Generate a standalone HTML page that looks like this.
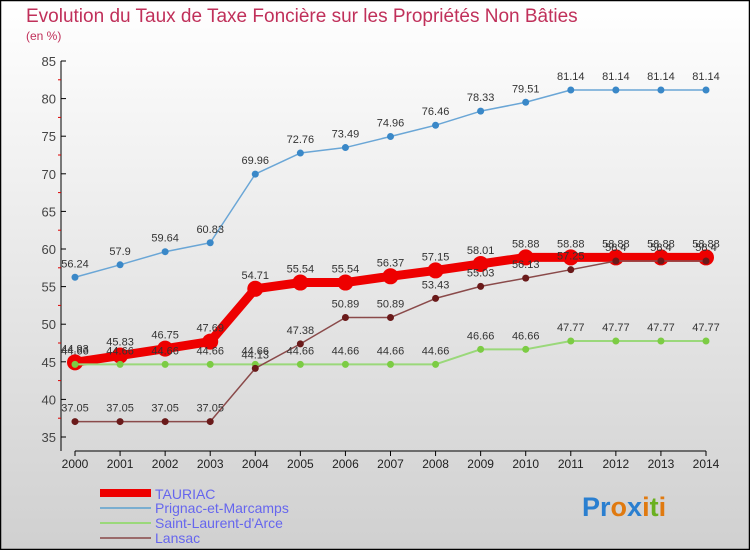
<!DOCTYPE html>
<html><head><meta charset="utf-8"><style>
body{margin:0;width:750px;height:550px;overflow:hidden;font-family:"Liberation Sans",sans-serif}
</style></head><body>
<svg width="750" height="550" xmlns="http://www.w3.org/2000/svg" font-family="Liberation Sans, sans-serif">
<defs><linearGradient id="bg" x1="0" y1="0" x2="0" y2="1"><stop offset="0" stop-color="#ffffff"/><stop offset="1" stop-color="#d0d0d0"/></linearGradient></defs>
<rect x="0.5" y="0.5" width="749" height="549" fill="url(#bg)" stroke="#000" stroke-width="1.5"/>
<text x="26" y="22" font-size="19" fill="#c0305a">Evolution du Taux de Taxe Foncière sur les Propriétés Non Bâties</text>
<text x="26" y="40" font-size="12" fill="#c0305a">(en %)</text>
<g id="axes"></g><g id="series"></g><g id="labels"></g>
<g font-size="14" fill="#6666ee">
<rect x="100" y="489" width="51" height="8" fill="#ee0000"/>
<text x="155" y="499">TAURIAC</text>
<rect x="100" y="507" width="51" height="2" fill="#7aaed0"/>
<text x="155" y="513">Prignac-et-Marcamps</text>
<rect x="100" y="522" width="51" height="2" fill="#9ad87a"/>
<text x="155" y="528">Saint-Laurent-d'Arce</text>
<rect x="100" y="537" width="51" height="2" fill="#9a6a6a"/>
<text x="155" y="543">Lansac</text>
</g>
<g font-size="27" font-weight="bold"><text x="582" y="516"><tspan fill="#2a7fd0">Pr</tspan><tspan fill="#e07a10">o</tspan><tspan fill="#2a7fd0">x</tspan><tspan fill="#e07a10">i</tspan><tspan fill="#6ab020">t</tspan><tspan fill="#e07a10">i</tspan></text></g>
</svg>
<script>
const years=[2000,2001,2002,2003,2004,2005,2006,2007,2008,2009,2010,2011,2012,2013,2014];
const yTicks=[35,40,45,50,55,60,65,70,75,80,85];
const tauriac=[44.93,45.83,46.75,47.69,54.71,55.54,55.54,56.37,57.15,58.01,58.88,58.88,58.88,58.88,58.88];
const prignac=[56.24,57.9,59.64,60.83,69.96,72.76,73.49,74.96,76.46,78.33,79.51,81.14,81.14,81.14,81.14];
const saintLaurent=[44.66,44.66,44.66,44.66,44.66,44.66,44.66,44.66,44.66,46.66,46.66,47.77,47.77,47.77,47.77];
const lansac=[37.05,37.05,37.05,37.05,44.13,47.38,50.89,50.89,53.43,55.03,56.13,57.25,58.4,58.4,58.4];
const NS='http://www.w3.org/2000/svg';
const X=i=>75+i*(706-75)/14;
const Y=v=>437-(v-35)*(437-61)/50;
function mk(t,a,p){const e=document.createElementNS(NS,t);for(const k in a)e.setAttribute(k,a[k]);p.appendChild(e);return e;}
const ax=document.getElementById('axes'),sg=document.getElementById('series'),lg=document.getElementById('labels');
let yl=mk('line',{x1:61,y1:61,x2:61,y2:451,stroke:'#000'},ax);

let xl=mk('line',{x1:75,y1:451,x2:706,y2:451,stroke:'#000'},ax);

yTicks.forEach((v,i)=>{
 mk('line',{x1:61,y1:Y(v),x2:66,y2:Y(v),stroke:'#000'},ax);
 if(i<yTicks.length-1)mk('line',{x1:58,y1:Y(v+2.5),x2:61,y2:Y(v+2.5),stroke:'#d00'},ax);
 const t=mk('text',{x:56,y:Y(v)+5,'text-anchor':'end','font-size':13,fill:'#444'},ax);t.textContent=v;
 
});
years.forEach((y,i)=>{
 mk('line',{x1:X(i),y1:451,x2:X(i),y2:456,stroke:'#000'},ax);
 const t=mk('text',{x:X(i),y:468,'text-anchor':'middle','font-size':12,fill:'#222'},ax);t.textContent=y;
 
});
function series(name,vals,col,w,r,dot){
 const g=mk('g',{},sg);
 mk('polyline',{points:vals.map((v,i)=>X(i)+','+Y(v)).join(' '),fill:'none',stroke:col,'stroke-width':w,'stroke-linejoin':'round'},g);
 vals.forEach((v,i)=>{const c=mk('circle',{cx:X(i),cy:Y(v),r:r,fill:dot},g);
  
  const t=mk('text',{x:X(i),y:Y(v)-10,'text-anchor':'middle','font-size':11,fill:'#333'},lg);t.textContent=v;
  });
}
series('tauriac',tauriac,'#ee0000',9,8,'#ee0000');
series('prignac',prignac,'#6aa6d6',1.5,3.5,'#3a88c8');
series('saint-laurent',saintLaurent,'#9ad87a',2,3.5,'#7ccc44');
series('lansac',lansac,'#8a4a4a',1.5,3.5,'#6a1a1a');
</script>
</body></html>
